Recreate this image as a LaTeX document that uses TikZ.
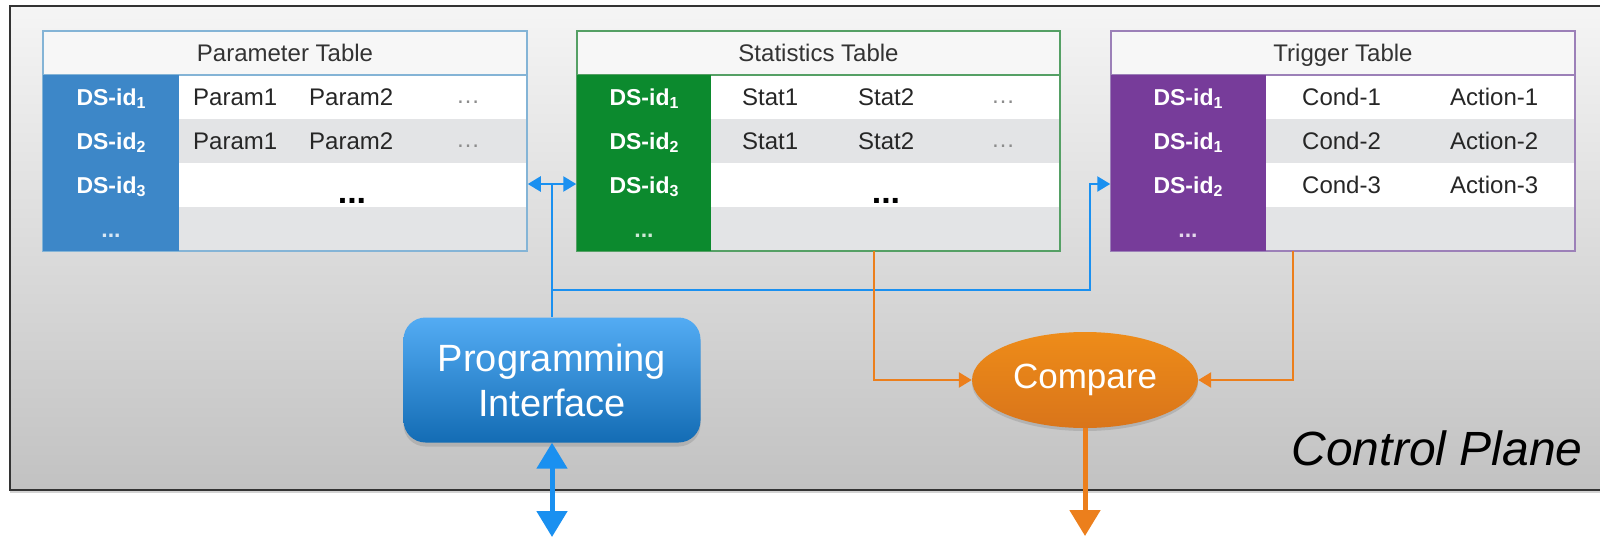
\documentclass[tikz,border=0pt]{standalone}
\usepackage{fontspec}
\setmainfont{Liberation Sans}
\usetikzlibrary{positioning,shadows,arrows.meta,shapes.geometric}

\definecolor{paramblue}{HTML}{3D87C8}
\definecolor{paramline}{HTML}{84B4D6}
\definecolor{statgreen}{HTML}{0C8A2E}
\definecolor{statline}{HTML}{55A065}
\definecolor{trigpurple}{HTML}{773C9A}
\definecolor{trigline}{HTML}{9C80B8}
\definecolor{rowgray}{HTML}{E3E4E6}
\definecolor{linkblue}{HTML}{1A90F0}
\definecolor{cmporange}{HTML}{EC7F1C}

\newcommand{\dsid}[1]{DS-id{\fontsize{16}{18}\selectfont\raisebox{-3pt}{#1}}}

\begin{document}
\begin{tikzpicture}[x=1pt, y=-1pt,
    cell/.style={font=\fontsize{24}{28}\selectfont, text=black!85, inner sep=0pt,
        text height=17pt, text depth=0pt},
    idtext/.style={font=\bfseries\fontsize{23}{28}\selectfont, text=white, inner sep=0pt,
        text height=16.5pt, text depth=0pt},
    tabtitle/.style={draw, line width=1.5pt, fill=white!97!black, minimum height=44pt,
        font=\fontsize{24}{28}\selectfont, text=black!80, inner sep=0pt,
        text height=17pt, text depth=0pt},
    tabbody/.style={draw, line width=1.5pt, minimum height=176pt, inner sep=0pt},
    thindots/.style={font=\fontsize{24}{28}\selectfont, text=black!45, inner sep=0pt},
    bigdots/.style={font=\bfseries\fontsize{34}{40}\selectfont, inner sep=0pt},
    bluelink/.style={draw=linkblue, line width=2.5pt},
    orangelink/.style={draw=cmporange, line width=2.5pt},
    headtip/.style={-{Triangle[length=13pt,width=15pt]}},
    bigtips/.style={{Triangle[length=26pt,width=30pt]}-{Triangle[length=26pt,width=30pt]}}
]
\useasboundingbox (0,0) rectangle (1600,538);

% Control plane frame
\draw[draw=black!80, line width=1.5pt, top color=white!96!black, bottom color=black!24,
    drop shadow={shadow xshift=0pt, shadow yshift=-3pt, opacity=0.35}]
    (10,6) rectangle (1640,490);

% Parameter table
\foreach \y/\c in {75/white, 119/rowgray, 163/white, 207/rowgray}
    \fill[\c] (179,\y) rectangle (527,\y+44);
\node[tabtitle, draw=paramline, minimum width=484pt] (ptitle) at (285,53) {Parameter Table};
\node[tabbody, draw=paramline, minimum width=484pt] (param) at (285,163) {};
\fill[paramblue] (43,75) rectangle (179,251);
\node[idtext] (pid1) at (111,97) {\dsid{1}};
\node[idtext] (pid2) at (111,141) {\dsid{2}};
\node[idtext] (pid3) at (111,185) {\dsid{3}};
\node[idtext, text=white!80!paramblue] (pid4) at (111,229) {...};
\node[cell, anchor=west] (pa1) at (193,97) {Param1};
\node[cell, anchor=west] (pb1) at (309,97) {Param2};
\node[thindots] (pc1) at (468,102) {\dots};
\node[cell, anchor=west] (pa2) at (193,141) {Param1};
\node[cell, anchor=west] (pb2) at (309,141) {Param2};
\node[thindots] (pc2) at (468,146) {\dots};
\node[bigdots] (pmore) at (352,201) {...};

% Statistics table
\foreach \y/\c in {75/white, 119/rowgray, 163/white, 207/rowgray}
    \fill[\c] (711,\y) rectangle (1060,\y+44);
\node[tabtitle, draw=statline, minimum width=483pt] (stitle) at (818.5,53) {Statistics Table};
\node[tabbody, draw=statline, minimum width=483pt] (stat) at (818.5,163) {};
\fill[statgreen] (577,75) rectangle (711,251);
\node[idtext] (sid1) at (644,97) {\dsid{1}};
\node[idtext] (sid2) at (644,141) {\dsid{2}};
\node[idtext] (sid3) at (644,185) {\dsid{3}};
\node[idtext, text=white!80!statgreen] (sid4) at (644,229) {...};
\node[cell, anchor=west] (sa1) at (742,97) {Stat1};
\node[cell, anchor=west] (sb1) at (858,97) {Stat2};
\node[thindots] (sc1) at (1003,102) {\dots};
\node[cell, anchor=west] (sa2) at (742,141) {Stat1};
\node[cell, anchor=west] (sb2) at (858,141) {Stat2};
\node[thindots] (sc2) at (1003,146) {\dots};
\node[bigdots] (smore) at (886,201) {...};

% Trigger table
\foreach \y/\c in {75/white, 119/rowgray, 163/white, 207/rowgray}
    \fill[\c] (1266,\y) rectangle (1575,\y+44);
\node[tabtitle, draw=trigline, minimum width=464pt] (ttitle) at (1343,53) {Trigger Table};
\node[tabbody, draw=trigline, minimum width=464pt] (trig) at (1343,163) {};
\fill[trigpurple] (1111,75) rectangle (1266,251);
\node[idtext] (tid1) at (1188,97) {\dsid{1}};
\node[idtext] (tid2) at (1188,141) {\dsid{1}};
\node[idtext] (tid3) at (1188,185) {\dsid{2}};
\node[idtext, text=white!80!trigpurple] (tid4) at (1188,229) {...};
\foreach \i/\y in {1/97, 2/141, 3/185} {
    \node[cell, anchor=west] (cond\i) at (1302,\y) {Cond-\i};
    \node[cell, anchor=west] (act\i) at (1450,\y) {Action-\i};
}

% Programming interface and compare
\node[draw=none, rounded corners=22pt, minimum width=297pt, minimum height=125pt,
    top color=linkblue!75!white, bottom color=linkblue!75!black,
    drop shadow={shadow xshift=0pt, shadow yshift=-4pt, opacity=0.3},
    text=white, align=center, font=\fontsize{38}{45}\selectfont] (prog) at (552,380)
    {Programming\\Interface};
\node[ellipse, minimum width=226pt, minimum height=96pt, inner sep=0pt,
    top color=cmporange!90!yellow, bottom color=cmporange!92!black,
    drop shadow={shadow xshift=0pt, shadow yshift=-3pt, opacity=0.3},
    text=white, font=\fontsize{35}{40}\selectfont] (cmp) at (1085,380) {Compare};
\node[anchor=base east, font=\itshape\fontsize{48}{55}\selectfont] (plane) at (1586,465)
    {Control Plane};

% Blue links
\coordinate (hub) at (552,184);
\coordinate (split) at (552,290);
\coordinate (bend) at (1090,290);
\coordinate (apiout) at (552,537);
\draw[bluelink, {Triangle[length=13pt,width=15pt]}-{Triangle[length=13pt,width=15pt]}]
    (param.east |- hub) -- (stat.west |- hub);
\draw[bluelink] (hub) -- (prog.north);
\draw[bluelink, headtip] (split) -- (bend) |- (trig.west |- hub);
\draw[draw=linkblue, line width=5pt, bigtips] (prog.south) -- (apiout);

% Orange links
\coordinate (sout) at (874,251);
\coordinate (tout) at (1293,251);
\coordinate (cmpout) at (1085,536);
\draw[orangelink, headtip] (sout) |- (cmp.west);
\draw[orangelink, headtip] (tout) |- (cmp.east);
\draw[draw=cmporange, line width=5pt, -{Triangle[length=26pt,width=30pt]}] (cmp.south) -- (cmpout);
\end{tikzpicture}
\end{document}
